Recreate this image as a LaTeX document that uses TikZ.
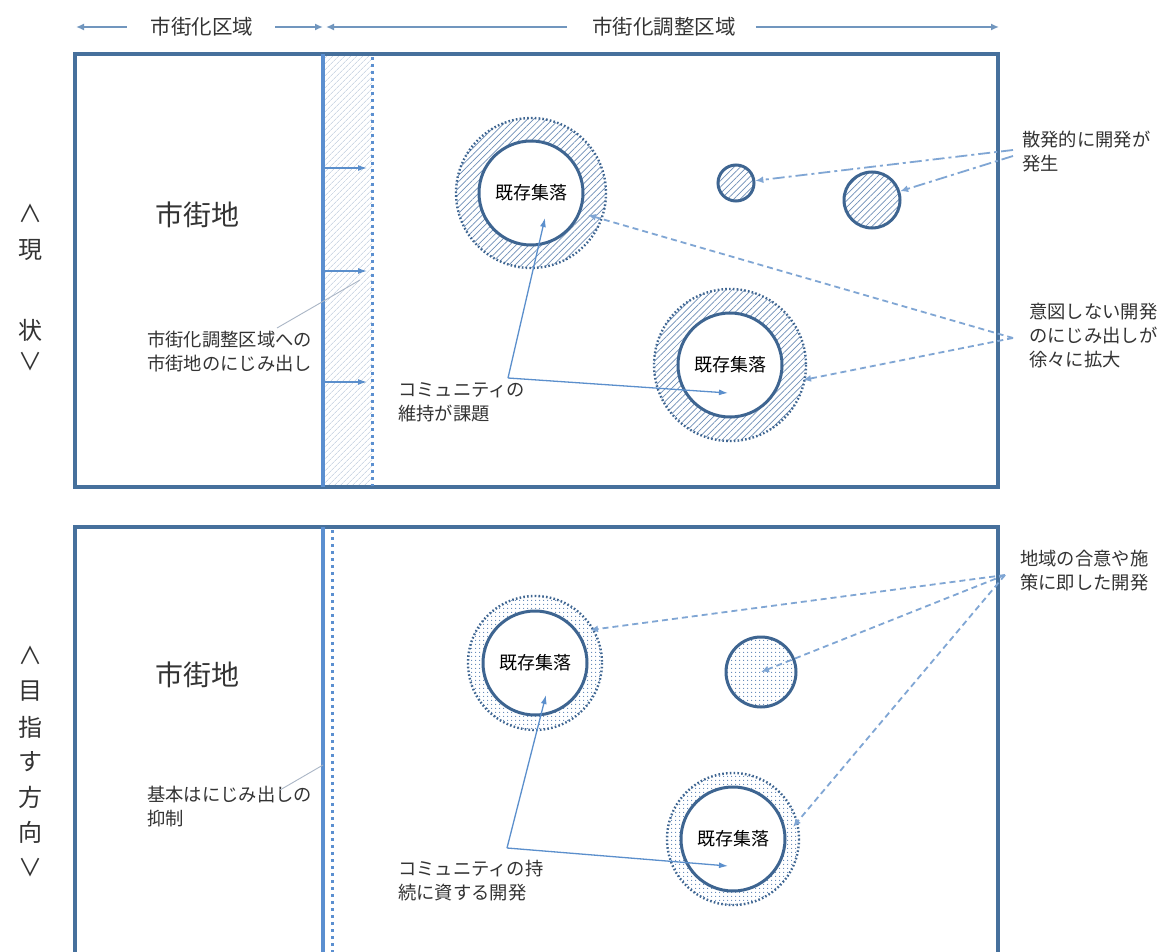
\documentclass[tikz,border=0pt]{standalone}
\usepackage{fontspec}
\setmainfont{Noto Sans CJK JP}
\usetikzlibrary{arrows.meta,patterns.meta}
\definecolor{boxc}{HTML}{46709C}
\definecolor{mainc}{HTML}{5B8FD0}
\definecolor{circc}{HTML}{3E6591}
\definecolor{hatchc}{HTML}{6F8FB8}
\definecolor{striph}{HTML}{B4C4D8}
\definecolor{dotc}{HTML}{5A82B4}
\definecolor{arrc}{HTML}{5B8FCC}
\definecolor{darrc}{HTML}{80A6D4}
\definecolor{hdrc}{HTML}{7196BE}
\definecolor{txt}{HTML}{333333}
\definecolor{ptrc}{HTML}{AAB6C6}
\tikzset{
  lbl/.style={font=\fontsize{18.3}{24}\selectfont, text=txt, align=left, inner sep=0pt, anchor=west},
  hdr/.style={font=\fontsize{20.5}{24}\selectfont, text=txt, inner sep=0pt},
  side/.style={font=\fontsize{24}{28}\selectfont, text=txt, inner sep=0pt},
  city/.style={font=\fontsize{28}{30}\selectfont, text=txt, inner sep=0pt},
  settle/.style={circle, draw=circc, line width=3pt, fill=white, minimum size=104pt, inner sep=0pt, text=black, font=\fontsize{18}{20}\selectfont},
  ringline/.style={draw=circc, line width=2.4pt, dash pattern=on 1.6pt off 2.2pt},
  hatchfill/.style={pattern={Lines[angle=45,distance=4.5pt,line width=0.7pt]}, pattern color=hatchc},
  dotfill/.style={pattern={Dots[distance=4pt,radius=0.75pt]}, pattern color=dotc},
  small/.style={circle, draw=circc, line width=3pt, inner sep=0pt},
  arr/.style={draw=arrc, line width=1.3pt, -{Latex[length=9pt,width=6pt]}},
  darr/.style={draw=darrc, line width=1.8pt, dash pattern=on 6pt off 4pt, -{Latex[length=8pt,width=7pt]}},
  ddarr/.style={draw=darrc, line width=1.8pt, dash pattern=on 12pt off 4pt on 3pt off 4pt, -{Latex[length=8pt,width=7pt]}},
  harr/.style={draw=hdrc, line width=2.5pt, -{Latex[length=8pt,width=7pt]}},
  boxst/.style={draw=boxc, line width=3.5pt},
  mainln/.style={draw=mainc, line width=4pt},
  dotln/.style={draw=mainc, line width=3pt, dash pattern=on 3pt off 4pt},
  ptr/.style={draw=ptrc, line width=0.9pt},
}
\begin{document}
\begin{tikzpicture}[x=1pt,y=-1pt]
\useasboundingbox (0,0) rectangle (1160,952);
\clip (0,0) rectangle (1160,952);
\fill[white] (0,0) rectangle (1160,952);

% header
\node[hdr] (h1) at (202,27) {市街化区域};
\node[hdr] (h2) at (664,27) {市街化調整区域};
\coordinate (hL) at (76,27);
\coordinate (hM1) at (323,27);
\coordinate (hM2) at (326,27);
\coordinate (hR) at (999,27);
\draw[harr, shorten <=24pt] (h1) -- (hL);
\draw[harr, shorten <=22pt] (h1) -- (hM1);
\draw[harr, shorten <=25pt] (h2) -- (hM2);
\draw[harr, shorten <=20pt] (h2) -- (hR);

% side labels
\node[side] (a1) at (30,213) {∧};
\node[side] (a2) at (30,250) {現};
\node[side] (a3) at (30,330) {状};
\node[side] (a4) at (30,362) {∨};
\node[side] (b1) at (30,655) {∧};
\node[side] (b2) at (30,691) {目};
\node[side] (b3) at (30,727) {指};
\node[side] (b4) at (30,762) {す};
\node[side] (b5) at (30,797) {方};
\node[side] (b6) at (30,832) {向};
\node[side] (b7) at (30,868) {∨};

% ===== top panel =====
\fill[pattern={Lines[angle=45,distance=4pt,line width=0.5pt]}, pattern color=striph] (323,54) rectangle (372,487);
\draw[boxst] (75,54) rectangle (998,487);
\draw[mainln] (323,54) -- (323,487);
\draw[dotln] (372,57) -- (372,486);
\coordinate (e1a) at (325,168); \coordinate (e1b) at (367,168);
\coordinate (e2a) at (325,271); \coordinate (e2b) at (367,271);
\coordinate (e3a) at (325,382); \coordinate (e3b) at (367,382);
\draw[arr] (e1a) -- (e1b);
\draw[arr] (e2a) -- (e2b);
\draw[arr] (e3a) -- (e3b);

\node[city] (m1) at (197,215) {市街地};

% rings
\path[hatchfill, even odd rule] (531,193) circle[radius=75] (531,193) circle[radius=52];
\draw[ringline] (531,193) circle[radius=75];
\path[hatchfill, even odd rule] (730,365) circle[radius=76] (730,365) circle[radius=52];
\draw[ringline] (730,365) circle[radius=76];
\node[settle] (s1) at (531,193) {既存集落};
\node[settle] (s2) at (730,365) {既存集落};
\node[small, hatchfill, minimum size=36pt] (d1) at (736,183) {};
\node[small, hatchfill, minimum size=56pt] (d2) at (872,200) {};

% labels
\node[lbl] (t1) at (1022,152) {散発的に開発が\\発生};
\node[lbl] (t2) at (1029,336) {意図しない開発\\のにじみ出しが\\徐々に拡大};
\node[lbl] (t3) at (147,352) {市街化調整区域への\\市街地のにじみ出し};
\node[lbl] (t4) at (398,402) {コミュニティの\\維持が課題};

% connectors top
\coordinate (p1) at (1013,150);
\coordinate (p2) at (1013,156);
\draw[ddarr] (p1) -- (d1);
\draw[ddarr] (p2) -- (d2);
\coordinate (p3) at (1013,338);
\coordinate (q1) at (588,215);
\coordinate (q2) at (803,380);
\draw[darr] (p3) -- (q1);
\draw[darr] (p3) -- (q2);
\coordinate (c1) at (508,378);
\coordinate (r1) at (545,218);
\coordinate (r2) at (728,393);
\draw[arr] (c1) -- (r1);
\draw[arr] (c1) -- (r2);
\coordinate (g1) at (277,328);
\coordinate (g2) at (360,280);
\draw[ptr] (g1) -- (g2);

% ===== bottom panel =====
\draw[boxst] (75,527) rectangle (998,1000);
\draw[mainln] (323,527) -- (323,952);
\draw[dotln] (332,530) -- (332,952);
\node[city] (m2) at (197,675) {市街地};

\path[dotfill, even odd rule] (535,663) circle[radius=67] (535,663) circle[radius=52];
\draw[ringline] (535,663) circle[radius=67];
\path[dotfill, even odd rule] (733,839) circle[radius=66] (733,839) circle[radius=52];
\draw[ringline] (733,839) circle[radius=66];
\node[settle] (s3) at (535,663) {既存集落};
\node[settle] (s4) at (733,839) {既存集落};
\node[small, dotfill, minimum size=70pt] (d3) at (761,672) {};

\node[lbl] (t5) at (1020,571) {地域の合意や施\\策に即した開発};
\node[lbl] (t6) at (147,807) {基本はにじみ出しの\\抑制};
\node[lbl] (t7) at (398,881) {コミュニティの持\\続に資する開発};

\coordinate (p4) at (1005,575);
\coordinate (u1) at (590,630);
\coordinate (u3) at (793,827);
\draw[darr] (p4) -- (u1);
\draw[darr] (p4) -- (d3.center);
\draw[darr] (p4) -- (u3);
\coordinate (c2) at (507,848);
\coordinate (w1) at (546,695);
\coordinate (w2) at (728,866);
\draw[arr] (c2) -- (w1);
\draw[arr] (c2) -- (w2);
\coordinate (g3) at (280,790);
\coordinate (g4) at (323,765);
\draw[ptr] (g3) -- (g4);
\end{tikzpicture}
\end{document}
